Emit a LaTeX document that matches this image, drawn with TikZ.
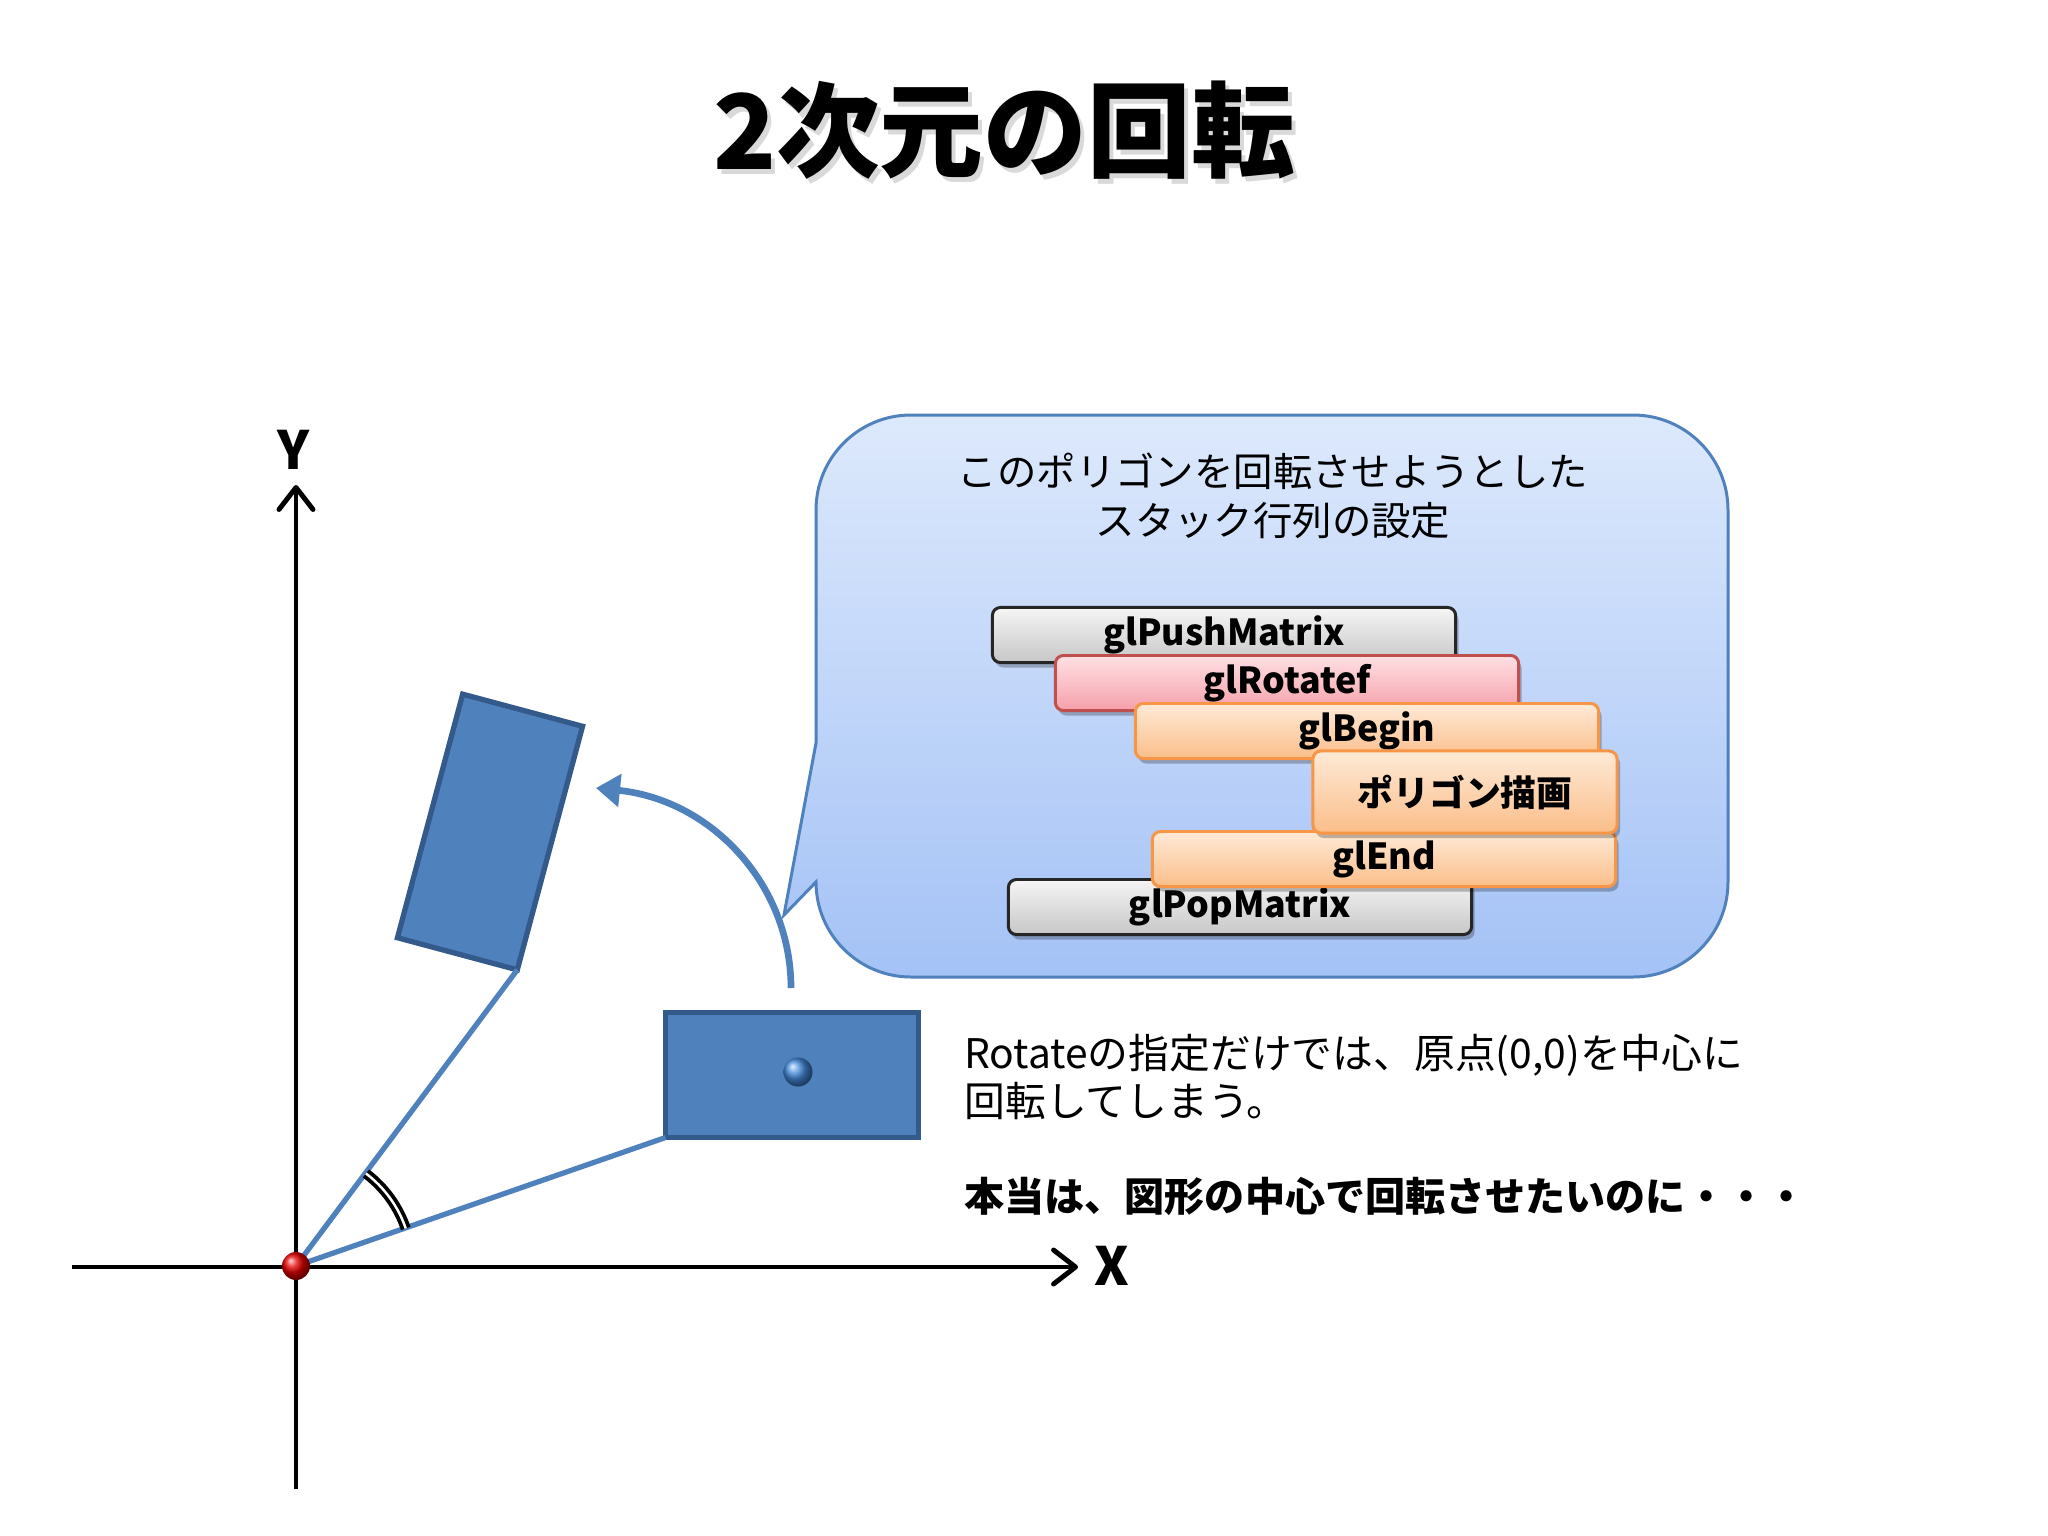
\documentclass[tikz,border=0pt]{standalone}
\usepackage{fontspec}
\setmainfont{Noto Sans CJK JP}
\usetikzlibrary{arrows.meta, shadows, calc}

\definecolor{polyblue}{RGB}{79,129,189}
\definecolor{polyedge}{RGB}{52,90,140}
\definecolor{pivotblue}{RGB}{70,140,222}
\definecolor{bubbletop}{RGB}{221,233,252}
\definecolor{bubblebot}{RGB}{164,194,246}
\definecolor{bubbleedge}{RGB}{79,129,189}
\definecolor{rotedge}{RGB}{192,80,77}
\definecolor{rotlight}{RGB}{255,224,228}
\definecolor{rotdark}{RGB}{245,160,170}
\definecolor{begedge}{RGB}{247,150,70}
\definecolor{beglight}{RGB}{254,234,214}
\definecolor{begdark}{RGB}{251,190,138}

\begin{document}
\begin{tikzpicture}[
			x=0.01cm, y=-0.01cm,
			axis/.style={line width=1.4pt, -{Straight Barb[length=2.2mm, width=3.4mm, round]}},
			axislabel/.style={font=\fontsize{15pt}{15pt}\selectfont\bfseries},
			polyrect/.style={rectangle, fill=polyblue, draw=polyedge, line width=1.5pt, outer sep=0pt, inner sep=0pt},
			spoke/.style={draw=polyblue, line width=1.5pt},
			turn/.style={draw=polyblue, line width=1.9pt, -{Triangle[length=2.4mm, width=3.2mm]}},
			anglemark/.style={draw=black, double=white, double distance=0.7pt, line width=1.1pt},
			bubble/.style={draw=bubbleedge, line width=0.85pt, top color=bubbletop, bottom color=bubblebot},
			note/.style={font=\fontsize{11.6pt}{13.8pt}\selectfont},
			op/.style={rectangle, rounded corners=0.8mm, line width=0.85pt, minimum width=4.63cm, minimum height=0.55cm, inner sep=0pt,
				font=\fontsize{10.2pt}{12pt}\selectfont\bfseries,
				drop shadow={shadow xshift=0.3mm, shadow yshift=-0.5mm, opacity=0.25, fill=black}},
			grayop/.style={op, draw=black!85, top color=black!4, bottom color=black!22},
			redop/.style={op, draw=rotedge, top color=rotlight, bottom color=rotdark},
			orangeop/.style={op, draw=begedge, top color=beglight, bottom color=begdark}
			]
			
			\useasboundingbox[fill=white] (0,0) rectangle (2048,1536);
			
			% title
			\node[font=\fontsize{29.5pt}{30pt}\selectfont\bfseries, text=black, opacity=0.15] at (1008,135) {2次元の回転};
			\node[font=\fontsize{29.5pt}{30pt}\selectfont\bfseries] (title) at (1004,130) {2次元の回転};
			
			% axes
			\coordinate (O) at (296,1266);
			\coordinate (xfrom) at (72,1267);
			\coordinate (xto) at (1078,1267);
			\coordinate (yfrom) at (296,1489);
			\coordinate (yto) at (296,485);
			\draw[axis] (xfrom) -- (xto);
			\draw[axis] (yfrom) -- (yto);
			\node[axislabel] (xlabel) at (1112,1266) {X};
			\node[axislabel] (ylabel) at (294,450) {Y};
			
			% polygon before / after
			\node[polyrect, minimum width=2.53cm, minimum height=1.25cm] (flat) at (792,1075) {};
			\node[polyrect, minimum width=1.24cm, minimum height=2.52cm, rotate=-15] (tilt) at (490,832) {};
			\draw[spoke] (O) -- (tilt.south east);
			\draw[spoke] (O) -- (flat.south west);
			\draw[anglemark] ($(O)+(-18.9:116)$) arc[start angle=-18.9, end angle=-52.9, radius=116];
			\node[circle, shading=ball, ball color=red!90!black, minimum size=2.8mm, inner sep=0pt] (origin) at (O) {};
			\node[circle, shading=ball, ball color=pivotblue, minimum size=2.9mm, inner sep=0pt] (pivot) at (798,1072) {};
			
			% callout
			\draw[bubble] (784,915) -- (816,743) -- (816,510)
				arc[start angle=180, end angle=270, radius=95] -- (1633,415)
				arc[start angle=270, end angle=360, radius=95] -- (1728,882)
				arc[start angle=0, end angle=90, radius=95] -- (911,977)
				arc[start angle=90, end angle=180, radius=95] -- cycle;
			\node[note, font=\fontsize{11.2pt}{13.8pt}\selectfont, align=center] (bubbletext) at (1273,496) {このポリゴンを回転させようとした\\スタック行列の設定};
			
			% rotation arrow
			\coordinate (turnfrom) at (791,988);
			\coordinate (turnto) at (596,788);
			\draw[turn] (turnfrom) .. controls (791,885) and (712,800) .. (turnto);
			
			% matrix stack
			\node[grayop] (push) at (1224,635) {glPushMatrix};
			\node[redop] (rot) at (1287,683) {glRotatef};
			\node[orangeop] (glbegin) at (1367,731) {glBegin};
			\node[grayop] (pop) at (1240,907) {glPopMatrix};
			\node[orangeop] (glend) at (1384,859) {glEnd};
			\node[orangeop, minimum width=3.04cm, minimum height=0.82cm] (draw) at (1465,792) {ポリゴン描画};
			
			% remarks
			\node[note, anchor=west, align=left] (remark) at (952,1077) {Rotateの指定だけでは、原点(0,0)を中心に\\回転してしまう。};
			\node[note, anchor=west, font=\fontsize{11.4pt}{13.8pt}\selectfont\bfseries] (wish) at (952,1196) {本当は、図形の中心で回転させたいのに・・・};
		\end{tikzpicture}
\end{document}
